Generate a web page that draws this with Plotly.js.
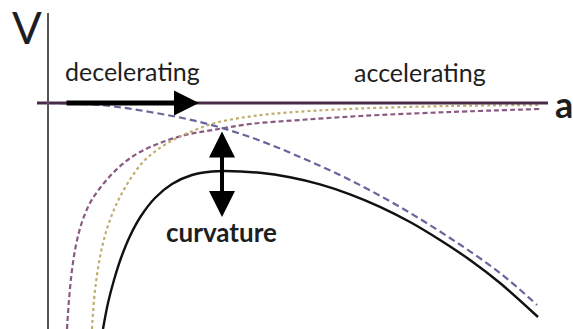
<!DOCTYPE html>
<html>
<head>
<meta charset="utf-8">
<script src="https://cdn.plot.ly/plotly-3.0.1.min.js"></script>
<style>
  html, body { margin: 0; padding: 0; background: #fff; }
  #chart { width: 573px; height: 329px; }
</style>
</head>
<body>
<div id="chart"></div>
<script>
// a on the x axis, V on the y axis (arbitrary units, V = 0 is the flat line)
const aFlat = [-0.11, 5.0];
const vFlat = [0, 0];

const aBlue = [0, 0.52, 1.02, 1.52, 2.02, 2.52, 3.02, 3.52, 4.02, 4.52, 4.89];
const vBlue = [0, -0.02, -0.09, -0.19, -0.34, -0.54, -0.77, -1.04, -1.35, -1.70, -2.02];

const aPurple = [0.19, 0.21, 0.24, 0.28, 0.34, 0.42, 0.52, 0.64, 0.77, 0.92, 1.12, 1.37, 1.65, 2.02, 2.52, 3.12, 4.02, 4.92];
const vPurple = [-2.26, -1.97, -1.67, -1.42, -1.19, -1.00, -0.85, -0.71, -0.59, -0.49, -0.40, -0.32, -0.27, -0.21, -0.17, -0.13, -0.09, -0.06];

const aYellow = [0.44, 0.46, 0.49, 0.53, 0.58, 0.65, 0.73, 0.83, 0.95, 1.09, 1.27, 1.47, 1.67, 1.92, 2.22, 2.62, 3.12, 4.02, 4.92];
const vYellow = [-2.26, -1.97, -1.72, -1.49, -1.29, -1.09, -0.92, -0.75, -0.59, -0.47, -0.36, -0.27, -0.20, -0.15, -0.11, -0.08, -0.055, -0.03, -0.02];

const aBlack = [0.55, 0.60, 0.66, 0.73, 0.82, 0.93, 1.07, 1.24, 1.44, 1.64, 1.77, 2.12, 2.42, 2.72, 3.02, 3.32, 3.62, 3.92, 4.22, 4.52, 4.90];
const vBlack = [-2.26, -2.00, -1.77, -1.55, -1.33, -1.13, -0.95, -0.81, -0.72, -0.685, -0.68, -0.698, -0.743, -0.814, -0.913, -1.038, -1.19, -1.37, -1.57, -1.80, -2.14];

const data = [
  {x: aPurple, y: vPurple, mode: 'lines', line: {color: '#8a5a82', width: 2.2, dash: '5px,3px', shape: 'spline'}},
  {x: aYellow, y: vYellow, mode: 'lines', line: {color: '#bfae6e', width: 2.2, dash: 'dot', shape: 'spline'}},
  {x: aBlue, y: vBlue, mode: 'lines', line: {color: '#66669c', width: 2.2, dash: '7px,4px', shape: 'spline'}},
  {x: aBlack, y: vBlack, mode: 'lines', line: {color: '#111', width: 2.4, shape: 'spline'}},
  {x: aFlat, y: vFlat, mode: 'lines', line: {color: '#4a2c4a', width: 3}}
];

const txt = {family: 'Lato, sans-serif', color: '#1e1e1e'};

const layout = {
  width: 573,
  height: 329,
  margin: {l: 0, r: 0, t: 0, b: 0},
  paper_bgcolor: '#fff',
  plot_bgcolor: '#fff',
  showlegend: false,
  xaxis: {range: [-0.48, 5.25], visible: false, fixedrange: true},
  yaxis: {range: [-2.26, 1.03], visible: false, fixedrange: true},
  shapes: [
    {type: 'line', x0: 0, x1: 0, y0: 0.90, y1: -2.3, line: {color: '#555', width: 2}}
  ],
  annotations: [
    {x: -0.21, y: 0.76, text: 'V', showarrow: false, font: Object.assign({size: 44}, txt)},
    {x: 5.155, y: -0.01, text: '<b>a</b>', showarrow: false, font: Object.assign({size: 36}, txt)},
    {x: 0.84, y: 0.32, text: 'decelerating', showarrow: false, font: Object.assign({size: 25}, txt)},
    {x: 3.72, y: 0.31, text: 'accelerating', showarrow: false, font: Object.assign({size: 25}, txt)},
    {x: 1.73, y: -1.29, text: '<b>curvature</b>', showarrow: false, font: Object.assign({size: 26}, txt)},
    // decelerating arrow along the V = 0 line
    {x: 1.51, y: 0, ax: 0.17, ay: 0, axref: 'x', ayref: 'y', text: '', showarrow: true,
     arrowhead: 2, arrowsize: 1, arrowwidth: 5, arrowcolor: '#000'},
    // curvature arrow (double headed)
    {x: 1.74, y: -1.14, ax: 1.74, ay: -0.27, axref: 'x', ayref: 'y', text: '', showarrow: true,
     arrowhead: 2, startarrowhead: 2, arrowside: 'end+start', arrowsize: 1.3, startarrowsize: 1.3,
     arrowwidth: 4, arrowcolor: '#000'}
  ]
};

Plotly.newPlot('chart', data, layout, {displayModeBar: false, staticPlot: true});
</script>
</body>
</html>
